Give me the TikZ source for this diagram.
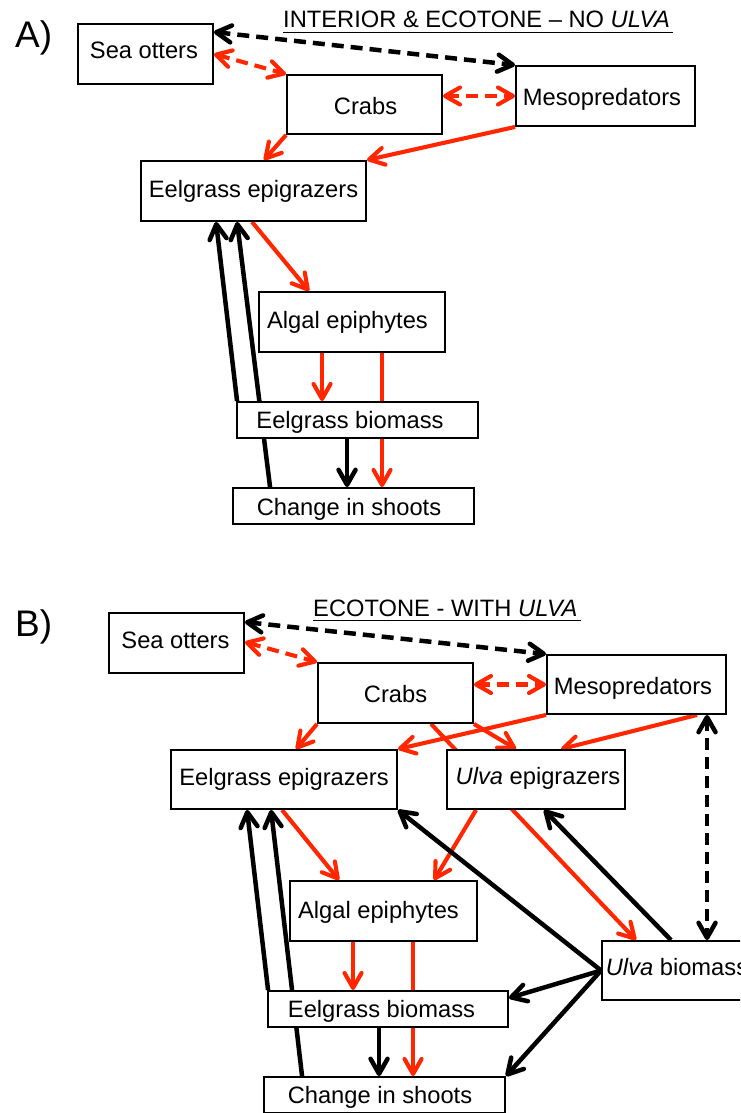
\documentclass[tikz,border=0pt]{standalone}
\usepackage{fontspec}
\setmainfont{Liberation Sans}
\usetikzlibrary{arrows.meta,calc}
\pgfdeclarelayer{bg}
\pgfsetlayers{bg,main}
\definecolor{redc}{RGB}{255,38,0}
\begin{document}
\begin{tikzpicture}[x=1pt,y=-1pt,
  box/.style={draw, line width=1.9pt, fill=white, inner sep=0pt, text depth=0pt, font=\fontsize{23.7}{28}\selectfont},
  lbl/.style={inner sep=0pt, anchor=base west, font=\fontsize{23.7}{28}\selectfont},
  bl/.style={line width=4.5pt, -{Straight Barb[length=15pt,width=17pt,round]}},
  rl/.style={bl, redc, line width=4.1pt},
  bd/.style={line width=4.5pt, {Straight Barb[length=15pt,width=17pt,round]}-{Straight Barb[length=15pt,width=17pt,round]}, dash pattern=on 12pt off 7pt},
  rd/.style={bd, redc, line width=4.1pt}]
\useasboundingbox (0,0) rectangle (740,1113);
\clip (0,0) rectangle (740,1113);
% ---------- Panel A ----------
\node[inner sep=0pt, anchor=base west, font=\fontsize{37}{40}\selectfont] (labA) at (15,48) {A)};
\node[lbl] (tA) at (283,28) {INTERIOR \& ECOTONE – NO \textit{ULVA}};
\draw[line width=1.9pt] ([yshift=-4.5pt]tA.base west) -- ([yshift=-4.5pt,xshift=3pt]tA.base east);
\node[box, minimum width=135pt, minimum height=60pt, text height=10pt] (soA) at (145.5,54) {Sea otters\hspace*{3pt}};
\node[box, minimum width=155pt, minimum height=59pt, text height=19pt] (crA) at (364.5,104.5) {\hspace*{2pt}Crabs};
\node[box, minimum width=179pt, minimum height=60pt, text height=20pt] (meA) at (605.5,96) {Mesopredators\hspace*{7pt}};
\node[box, minimum width=225pt, minimum height=60pt, text height=12pt] (eeA) at (253.5,191) {Eelgrass epigrazers};
\node[box, minimum width=186pt, minimum height=60pt, text height=12pt] (alA) at (352,322) {Algal epiphytes\hspace*{9pt}};
\node[box, minimum width=241pt, minimum height=36pt, text height=16pt] (ebA) at (357.5,420) {Eelgrass biomass\hspace*{15pt}};
\node[box, minimum width=241pt, minimum height=36pt, text height=18pt] (csA) at (353.5,506) {Change in shoots\hspace*{9pt}};
% ---------- Panel B ----------
\node[inner sep=0pt, anchor=base west, font=\fontsize{37}{40}\selectfont] (labB) at (15,636) {B)};
\node[lbl] (tB) at (313,616) {ECOTONE - WITH \textit{ULVA}};
\draw[line width=1.9pt] ([yshift=-4.5pt]tB.base west) -- ([yshift=-4.5pt,xshift=3pt]tB.base east);
\node[box, minimum width=135pt, minimum height=60pt, text height=10pt] (soB) at (176.5,643) {Sea otters\hspace*{2pt}};
\node[box, minimum width=155pt, minimum height=60pt, text height=18pt] (crB) at (395.5,693) {Crabs};
\node[box, minimum width=179pt, minimum height=59pt, text height=19pt] (meB) at (636.5,684.5) {Mesopredators\hspace*{7pt}};
\node[box, minimum width=226pt, minimum height=59pt, text height=11pt] (eeB) at (284,779.5) {Eelgrass epigrazers};
\node[box, minimum width=178pt, minimum height=59pt, text height=10pt] (uvB) at (536,779.5) {\hspace*{4pt}\textit{Ulva} epigrazers};
\node[box, minimum width=187pt, minimum height=60pt, text height=14pt] (alB) at (383.5,911) {Algal epiphytes\hspace*{10pt}};
\node[box, minimum width=240pt, minimum height=36pt, text height=16pt] (ebB) at (388,1009) {Eelgrass biomass\hspace*{13pt}};
\node[box, minimum width=241pt, minimum height=36pt, text height=16pt] (csB) at (384.5,1095) {Change in shoots\hspace*{9pt}};
\node[box, minimum width=150pt, minimum height=59pt, text height=9pt] (ubB) at (677,970.5) {\textit{Ulva} biomass};
% ---------- connectors ----------
\begin{pgfonlayer}{bg}
% A
\draw[bd] ([yshift=-9pt]soA.north east) -- (meA.north west);
\draw[rd] ([yshift=-31pt]soA.north east) -- (crA.north west);
\draw[rd] (crA.east |- meA.west) -- (meA.west);
\draw[rl] (crA.south west) -- ([xshift=124pt]eeA.north west);
\draw[rl] (meA.south west) -- (eeA.north east);
\draw[rl] ([xshift=112pt]eeA.south west) -- ([xshift=51pt]alA.north west);
\draw[rl] ([xshift=64pt]alA.south west) -- ([xshift=64pt]alA.south west |- ebA.north);
\draw[rl] ([xshift=124pt]alA.south west) -- ([xshift=124pt]alA.south west |- csA.north);
\draw[bl] ([xshift=111pt]ebA.south west) -- ([xshift=111pt]ebA.south west |- csA.north);
\draw[bl] ([xshift=1pt]ebA.north west) -- ([xshift=76pt]eeA.south west);
\draw[bl] ([xshift=38pt]csA.north west) -- ([xshift=97pt]eeA.south west);
% B
\draw[bd] ([yshift=-10pt]soB.north east) -- (meB.north west);
\draw[rd] ([yshift=-30pt]soB.north east) -- (crB.north west);
\draw[rd] (crB.east |- meB.west) -- (meB.west);
\draw[rl] (crB.south west) -- ([xshift=126pt]eeB.north west);
\draw[rl] (crB.south east) -- ([xshift=70pt]uvB.north west);
\draw[rl] ([xshift=114pt]crB.south west) -- ([xshift=35pt]ubB.north west);
\draw[rl] (meB.south west) -- (eeB.north east);
\draw[rl] ([xshift=151pt]meB.south west) -- ([xshift=115pt]uvB.north west);
\draw[bd] ([xshift=161pt]meB.south west) -- ([xshift=161pt]meB.south west |- ubB.north);
\draw[rl] ([xshift=112pt]eeB.south west) -- ([xshift=50pt]alB.north west);
\draw[rl] ([xshift=30pt]uvB.south west) -- ([xshift=145pt]alB.north west);
\draw[bl] ([xshift=70pt]ubB.north west) -- ([xshift=98pt]uvB.south west);
\draw[bl] (ubB.west) -- (eeB.south east);
\draw[bl] (ubB.west) -- ([yshift=11pt]ebB.east);
\draw[bl] (ubB.west) -- (csB.north east);
\draw[rl] ([xshift=64pt]alB.south west) -- ([xshift=64pt]alB.south west |- ebB.north);
\draw[rl] ([xshift=124pt]alB.south west) -- ([xshift=124pt]alB.south west |- csB.north);
\draw[bl] ([xshift=112pt]ebB.south west) -- ([xshift=112pt]ebB.south west |- csB.north);
\draw[bl] ([xshift=1pt]ebB.north west) -- ([xshift=77pt]eeB.south west);
\draw[bl] ([xshift=39pt]csB.north west) -- ([xshift=101pt]eeB.south west);
\end{pgfonlayer}
\end{tikzpicture}
\end{document}
